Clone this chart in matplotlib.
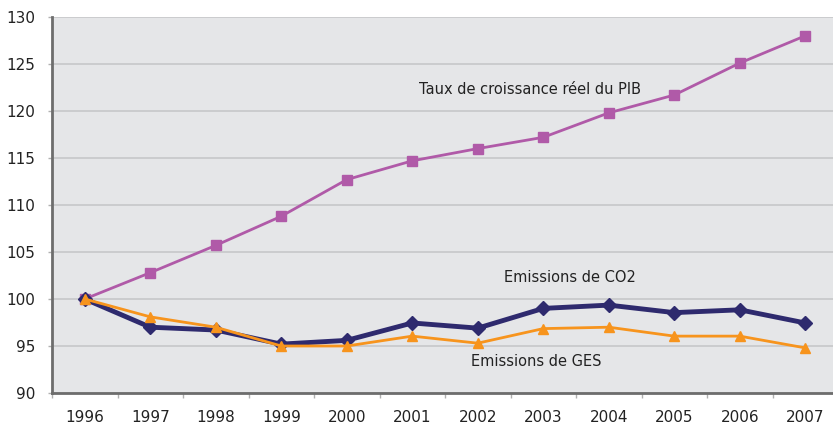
import numpy as np
import matplotlib.pyplot as plt

years = ["1996", "1997", "1998", "1999", "2000", "2001", "2002", "2003",
         "2004", "2005", "2006", "2007"]
pib = [100, 102.8, 105.7, 108.8, 112.7, 114.7, 116.0, 117.2, 119.8, 121.7, 125.1, 128.0]
co2 = [100, 97.0, 96.7, 95.2, 95.6, 97.45, 96.9, 99.0, 99.35, 98.55, 98.85, 97.45]
ges = [100, 98.1, 97.0, 95.0, 95.0, 96.05, 95.3, 96.85, 97.0, 96.05, 96.05, 94.8]

plt.rcParams['font.family'] = ['DejaVu Sans']

fig = plt.figure(figsize=(8.33, 4.25), dpi=100)
# right edge runs past the figure, as in the reference
ax = fig.add_axes([52/833, 32/425, 786/833, 376/425])
ax.set_facecolor('#e5e6e8')

x = np.arange(len(years))
ax.plot(x, pib, color='#b05aa8', lw=2, marker='s', ms=7, zorder=3)
ax.plot(x, co2, color='#2e2a6e', lw=3.5, marker='D', ms=7, zorder=4)
ax.plot(x, ges, color='#f7941d', lw=2, marker='^', ms=7, zorder=5)

ax.set_xlim(-0.5, 11.5)
ax.set_ylim(90, 130)
ax.set_yticks(np.arange(90, 131, 5))
ax.yaxis.grid(True, color='#c9cacc', lw=1.3)
ax.set_axisbelow(True)

ax.set_xticks(np.arange(-0.5, 12, 1))
ax.set_xticklabels([])
ax.set_xticks(x, minor=True)
ax.set_xticklabels(years, minor=True)
ax.tick_params(axis='x', which='major', length=3.5, color='#b0b0b0', width=1)
ax.tick_params(axis='x', which='minor', length=0, pad=12, labelsize=11, labelcolor='#222222')
ax.tick_params(axis='y', length=3, color='#b0b0b0', width=1, pad=9, labelsize=11, labelcolor='#222222')

for s in ['top', 'right']:
    ax.spines[s].set_visible(False)
ax.spines['left'].set_color('#6d6d6d')
ax.spines['left'].set_linewidth(2)
ax.spines['bottom'].set_color('#6d6d6d')
ax.spines['bottom'].set_linewidth(2)

ax.text(6.8, 122.3, "Taux de croissance réel du PIB", ha='center', va='center',
        fontsize=10.5, color='#222222')
ax.text(7.4, 102.3, "Emissions de CO2", ha='center', va='center',
        fontsize=10.5, color='#222222')
ax.text(6.9, 93.3, "Emissions de GES", ha='center', va='center',
        fontsize=10.5, color='#222222')

fig.savefig("out.png", dpi=100)
